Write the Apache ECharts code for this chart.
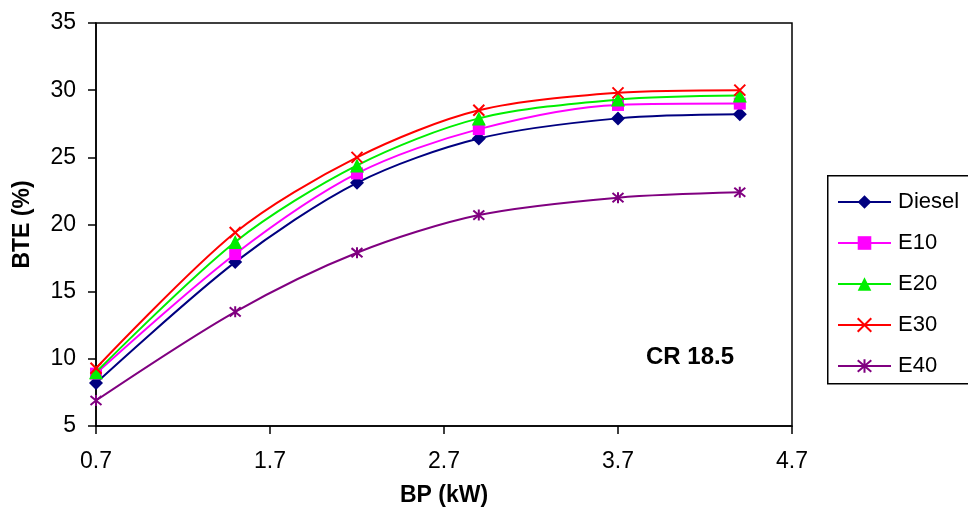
<!DOCTYPE html>
<html>
<head>
<meta charset="utf-8">
<script src="https://cdn.jsdelivr.net/npm/echarts@6/dist/echarts.min.js"></script>
<style>html,body{margin:0;padding:0;background:#fff}#c{width:968px;height:512px}</style>
</head>
<body>
<div id="c"></div>
<script>
var bp = [0.7, 1.5, 2.2, 2.9, 3.7, 4.4];
var diesel = [8.2, 17.2, 23.1, 26.4, 27.9, 28.2];
var e10 = [8.9, 17.8, 23.8, 27.1, 28.9, 29.0];
var e20 = [9.0, 18.7, 24.4, 27.9, 29.3, 29.6];
var e30 = [9.3, 19.4, 25.0, 28.5, 29.8, 30.0];
var e40 = [6.9, 13.5, 17.9, 20.7, 22.0, 22.4];
var seriesNames = ['Diesel', 'E10', 'E20', 'E30', 'E40'];
var xTicks = [0.7, 1.7, 2.7, 3.7, 4.7];
var yTicks = [5, 10, 15, 20, 25, 30, 35];
var annotation = 'CR 18.5';

var FONT = '"Liberation Sans", Arial, sans-serif';
function pts(ys) { return bp.map(function (x, i) { return [x, ys[i]]; }); }

var styles = [
  { color: '#000080', symbol: 'diamond', size: 14 },
  { color: '#FF00FF', symbol: 'rect', size: 12 },
  { color: '#00EE00', symbol: 'triangle', size: 14 },
  { color: '#FF0000', symbol: 'path://M0,0L10,10M10,0L0,10', size: 11, stroke: true },
  { color: '#800080', symbol: 'path://M0,0L10,10M10,0L0,10M5,-1L5,11', size: 11, stroke: true }
];
var data = [diesel, e10, e20, e30, e40];

var series = seriesNames.map(function (name, k) {
  var s = styles[k];
  return {
    name: name,
    type: 'line',
    data: pts(data[k]),
    smooth: 0.3,
    symbol: s.symbol,
    symbolSize: s.size,
    showAllSymbol: true,
    lineStyle: { color: s.color, width: 2 },
    itemStyle: s.stroke ? { color: s.color, borderColor: s.color, borderWidth: 2 } : { color: s.color, borderWidth: 0 },
    z: 2 + k,
    animation: false
  };
});

var chart = echarts.init(document.getElementById('c'), null, { renderer: 'canvas' });
chart.setOption({
  backgroundColor: '#fff',
  animation: false,
  grid: { left: 96, right: 176, top: 23, bottom: 86, show: true, borderColor: '#000', borderWidth: 1.5, backgroundColor: 'transparent' },
  xAxis: {
    type: 'value', min: xTicks[0], max: xTicks[xTicks.length - 1], interval: 1,
    name: 'BP (kW)', nameLocation: 'middle', nameGap: 58,
    nameTextStyle: { fontFamily: FONT, fontSize: 23, fontWeight: 'bold', color: '#000' },
    axisLine: { show: true, lineStyle: { color: '#000', width: 1.5 } },
    axisTick: { show: true, inside: false, length: 8, lineStyle: { color: '#000', width: 1.5 } },
    axisLabel: { fontFamily: FONT, fontSize: 23, color: '#000', margin: 24, formatter: function (v) { return v.toFixed(1); } },
    splitLine: { show: false }
  },
  yAxis: {
    type: 'value', min: yTicks[0], max: yTicks[yTicks.length - 1], interval: 5,
    name: 'BTE (%)', nameLocation: 'middle', nameGap: 62,
    nameTextStyle: { fontFamily: FONT, fontSize: 23, fontWeight: 'bold', color: '#000' },
    axisLine: { show: true, lineStyle: { color: '#000', width: 1.5 } },
    axisTick: { show: true, inside: false, length: 8, lineStyle: { color: '#000', width: 1.5 } },
    axisLabel: { fontFamily: FONT, fontSize: 23, color: '#000', margin: 20 },
    splitLine: { show: false }
  },
  legend: {
    orient: 'vertical', left: 827, top: 175,
    padding: [16, 10, 6, 10],
    itemWidth: 53, itemHeight: 17, itemGap: 19,
    borderWidth: 0,
    textStyle: { fontFamily: FONT, fontSize: 22, color: '#000', lineHeight: 22, padding: [0, 0, 0, 2] },
    data: seriesNames
  },
  graphic: [{
    type: 'rect', left: 827, top: 175, z: -1,
    shape: { width: 200, height: 208 },
    style: { fill: '#fff', stroke: '#000', lineWidth: 1.5 }
  }, {
    type: 'text', left: 646, top: 345,
    style: { text: annotation, fontFamily: FONT, fontSize: 24, fontWeight: 'bold', fill: '#000' }
  }],
  series: series
});
</script>
</body>
</html>
